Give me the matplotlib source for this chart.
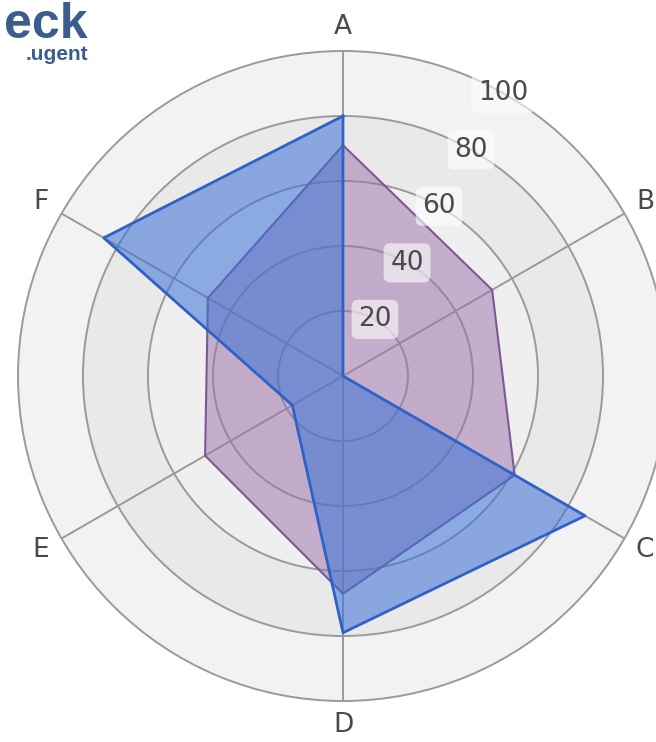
import numpy as np
import matplotlib
matplotlib.use("Agg")
import matplotlib.pyplot as plt

categories = ["A", "B", "C", "D", "E", "F"]
purple_values = [71, 53, 61, 67, 49, 48]
blue_values = [80, 0, 86, 79, 18, 85]
ring_ticks = [20, 40, 60, 80, 100]
ring_labels = ["20", "40", "60", "80", "100"]
band_colors = ["#efefef", "#e9e9e9", "#efefef", "#e9e9e9", "#f2f2f2"]

plt.rcParams['font.family'] = ['Liberation Sans Narrow', 'DejaVu Sans']

W, H = 656, 742
fig = plt.figure(figsize=(W / 100, H / 100), dpi=100)
fig.patch.set_facecolor("white")

cx, cy, R = 343, 376, 325
ax = fig.add_axes([(cx - R) / W, (H - cy - R) / H, 2 * R / W, 2 * R / H],
                  projection="polar")
ax.set_theta_zero_location("N")
ax.set_theta_direction(-1)
ax.set_ylim(0, 100)
ax.patch.set_alpha(0)

# background bands
bottoms = [0] + ring_ticks[:-1]
for b, t, c in zip(bottoms, ring_ticks, band_colors):
    ax.bar(0, t - b, width=2 * np.pi, bottom=b, color=c, edgecolor="none",
           align="center", zorder=0)

angles = np.arange(len(categories)) * 2 * np.pi / len(categories)
ax.set_xticks(angles)
ax.set_xticklabels([""] * len(categories))
ax.set_yticks(ring_ticks[:-1])
ax.set_yticklabels([])
ax.grid(True, color="#9a9a9a", linewidth=1.4)
ax.spines["polar"].set_color("#9a9a9a")
ax.spines["polar"].set_linewidth(1.4)
ax.tick_params(length=0)

# data polygons
th = np.append(angles, angles[0])
pv = np.append(purple_values, purple_values[0])
bv = np.append(blue_values, blue_values[0])
ax.fill(th, pv, color="#9c6fa8", alpha=0.5, zorder=3, linewidth=0)
ax.plot(th, pv, color="#7a5a96", linewidth=1.5, zorder=4)
ax.fill(th, bv, color="#3a72d6", alpha=0.55, zorder=5, linewidth=0)
ax.plot(th, bv, color="#2f62c8", linewidth=2.0, zorder=6)

# ring labels
lab_theta = np.deg2rad(29.5)
for v, s in zip(ring_ticks, ring_labels):
    ax.text(lab_theta, v, s, ha="center", va="center", fontsize=19,
            color="#4a4a4a", zorder=8,
            bbox=dict(boxstyle="round,pad=0.25", facecolor="white",
                      edgecolor="none", alpha=0.6))

# category labels
for a, c in zip(angles, categories):
    ax.text(a, 107.3, c, ha="center", va="center", fontsize=19,
            color="#4a4a4a", clip_on=False)

# partial logo
fig.text(88 / W, 1 - 38 / H, "eck", ha="right", va="baseline",
         fontsize=36, fontweight="bold", color="#3b5d8e",
         family=["Liberation Sans", "DejaVu Sans"])
fig.text(88 / W, 1 - 60 / H, ".ugent", ha="right", va="baseline",
         fontsize=15, fontweight="bold", color="#3b5d8e",
         family=["Liberation Sans", "DejaVu Sans"])

fig.savefig("out.png", dpi=100)
